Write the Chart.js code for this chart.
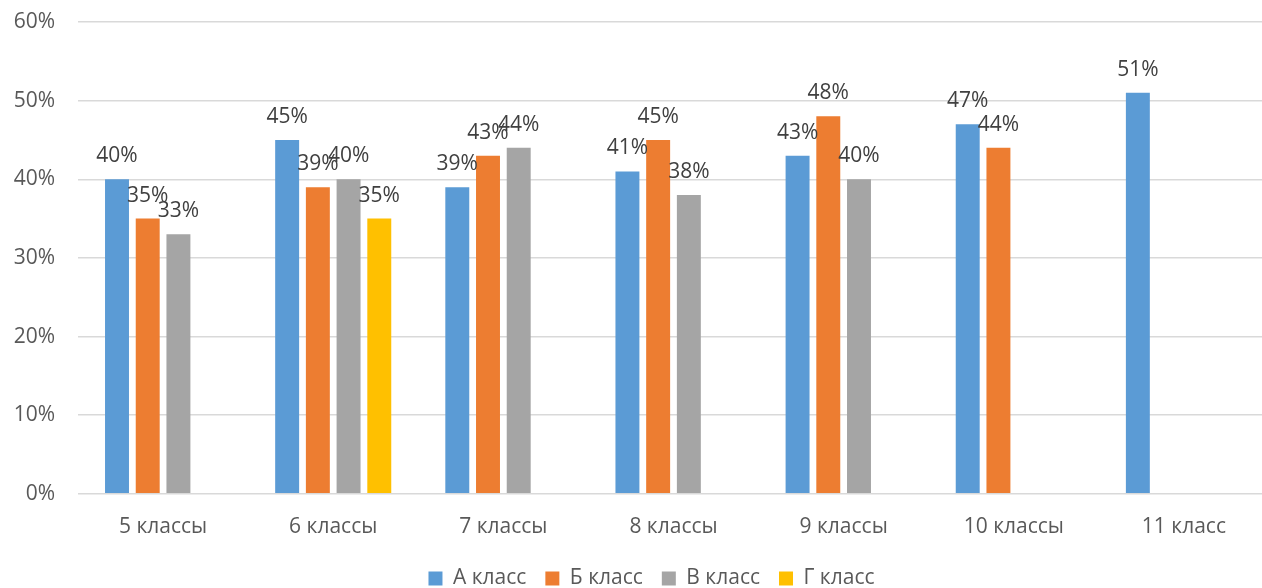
<!DOCTYPE html>
<html>
<head>
<meta charset="utf-8">
<script src="https://cdn.jsdelivr.net/npm/chart.js@4"></script>
<style>
  html, body { margin: 0; padding: 0; background: #fff; overflow: hidden; }
  #wrap { width: 1270px; height: 599px; position: relative; }
</style>
</head>
<body>
<div id="wrap"><canvas id="chart"></canvas></div>
<script>
const categories = ['5 классы', '6 классы', '7 классы', '8 классы', '9 классы', '10 классы', '11 класс'];
const seriesNames = ['А класс', 'Б класс', 'В класс', 'Г класс'];
const classA = [40, 45, 39, 41, 43, 47, 51];
const classB = [35, 39, 43, 45, 48, 44, null];
const classV = [33, 40, 44, 38, 40, null, null];
const classG = [null, 35, null, null, null, null, null];
const yTicks = [0, 10, 20, 30, 40, 50, 60];
const colors = ['#5B9BD5', '#ED7D31', '#A5A5A5', '#FFC000'];

const FONT = '"Open Sans", "DejaVu Sans", sans-serif';

// value labels above each bar
const barLabels = {
  id: 'barLabels',
  afterDatasetsDraw(chart) {
    const ctx = chart.ctx;
    ctx.save();
    ctx.font = '21px ' + FONT;
    ctx.fillStyle = '#404040';
    ctx.textAlign = 'center';
    ctx.textBaseline = 'alphabetic';
    chart.data.datasets.forEach((ds, i) => {
      const meta = chart.getDatasetMeta(i);
      meta.data.forEach((bar, j) => {
        const v = ds.data[j];
        if (v === null || v === undefined) return;
        ctx.fillText(v + '%', bar.x, bar.y - 17);
      });
    });
    ctx.restore();
  }
};

// nudge the legend a bit to the right, like the original
const legendShift = {
  id: 'legendShift',
  afterLayout(chart) {
    chart.legend.left += 10;
    chart.legend.right += 10;
  }
};

const allSeries = [classA, classB, classV, classG];

new Chart(document.getElementById('chart'), {
  type: 'bar',
  data: {
    labels: categories,
    datasets: allSeries.map((vals, i) => ({
      label: seriesNames[i],
      data: vals,
      backgroundColor: colors[i],
      borderWidth: 0,
      categoryPercentage: 0.722,
      barPercentage: 0.78
    }))
  },
  options: {
    responsive: true,
    maintainAspectRatio: false,
    animation: false,
    layout: { padding: { left: 14, right: 1, top: 0, bottom: 0 } },
    scales: {
      x: {
        grid: { display: false },
        border: { display: false },
        ticks: { color: '#595959', font: { family: FONT, size: 21 }, padding: 13 },
        afterFit(scale) { scale.height -= 4; }
      },
      y: {
        min: 0,
        max: 60,
        afterBuildTicks(axis) { axis.ticks = yTicks.map(v => ({ value: v })); },
        afterFit(scale) {
          scale.width = 64;
          scale.paddingTop = 22;
          scale.paddingBottom = 0;
        },
        grid: { color: '#d9d9d9', lineWidth: 1.5, drawTicks: false },
        border: { display: false },
        ticks: {
          color: '#595959',
          font: { family: FONT, size: 21 },
          padding: 23,
          callback: v => v + '%'
        }
      }
    },
    plugins: {
      tooltip: { enabled: false },
      legend: {
        position: 'bottom',
        labels: {
          color: '#595959',
          font: { family: FONT, size: 21 },
          boxWidth: 14,
          boxHeight: 14,
          padding: 19
        }
      }
    }
  },
  plugins: [barLabels, legendShift]
});
</script>
</body>
</html>
